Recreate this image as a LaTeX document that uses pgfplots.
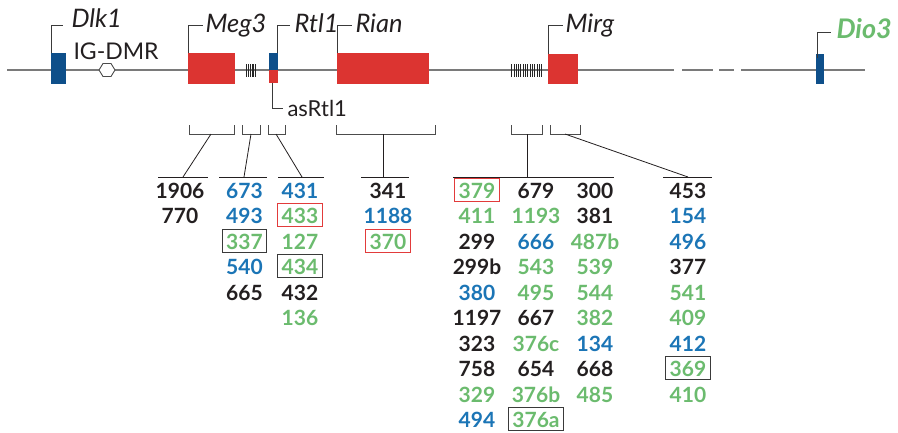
\documentclass[border=0pt]{standalone}
\usepackage{pgfplots}
\pgfplotsset{compat=1.18}
\usepackage{fontspec}
\setmainfont{Lato}
\definecolor{cK}{HTML}{231F20}
\definecolor{cB}{HTML}{1B75B6}
\definecolor{cG}{HTML}{6BBB6E}
\definecolor{gRed}{HTML}{DC3431}
\definecolor{gBlue}{HTML}{0E4F8A}
\definecolor{bxR}{HTML}{E23B3B}
\definecolor{bxK}{HTML}{3A3A3A}
\definecolor{lineG}{HTML}{7A7A7A}
\newcommand{\numfont}{\fontsize{21}{21}\selectfont\bfseries}
\newcommand{\genefont}{\fontsize{25.5}{25.5}\selectfont\itshape}
% number node: x, row, colour, text
\newcommand{\mi}[4]{\node[anchor=base,font=\numfont,text=#3,inner sep=0pt] at (axis cs:#1,{198+25.5*#2}) {#4};}
\newcommand{\mb}[5]{\node[anchor=base,font=\numfont,text=#3,draw=#5,line width=0.9pt,inner xsep=4pt,inner ysep=3pt,text height=17pt,text depth=0pt] at (axis cs:#1,{198+25.5*#2}) {#4};}
\begin{document}
\begin{tikzpicture}
\begin{axis}[width=898pt,height=432pt,scale only axis,
  xmin=0,xmax=898,ymin=0,ymax=432,y dir=reverse,hide axis,clip=false]
\path (axis cs:0,0) rectangle (axis cs:898,432);
% main line
\addplot[lineG,line width=1.3pt] coordinates {(7,70) (674,70)};
\addplot[lineG,line width=1.3pt] coordinates {(682,70) (713,70)};
\addplot[lineG,line width=1.3pt] coordinates {(719,70) (734,70)};
\addplot[lineG,line width=1.3pt] coordinates {(741,70) (865,70)};
% hatches
\addplot[black!85,line width=0.55pt,unbounded coords=jump] coordinates {
(246.5,64)(246.5,77)(247,nan)(248.3,64)(248.3,77)(249,nan)(250.1,64)(250.1,77)(251,nan)
(251.9,64)(251.9,77)(252,nan)(253.7,64)(253.7,77)(254,nan)(255.5,64)(255.5,77)};
\addplot[black!85,line width=0.55pt,unbounded coords=jump] coordinates {
(511.5,64)(511.5,77)(512,nan)(513.8,64)(513.8,77)(514,nan)(516.1,64)(516.1,77)(517,nan)
(518.4,64)(518.4,77)(519,nan)(520.7,64)(520.7,77)(521,nan)(523.0,64)(523.0,77)(524,nan)
(525.3,64)(525.3,77)(526,nan)(527.6,64)(527.6,77)(528,nan)(529.9,64)(529.9,77)(530,nan)
(532.2,64)(532.2,77)(533,nan)(534.5,64)(534.5,77)(535,nan)(536.8,64)(536.8,77)(537,nan)
(539.1,64)(539.1,77)(540,nan)(541.4,64)(541.4,77)};
% genes
\addplot[fill=gBlue,draw=none] coordinates {(51,53)(66,53)(66,84)(51,84)};
\addplot[fill=gRed,draw=none] coordinates {(188,53)(235,53)(235,84)(188,84)};
\addplot[fill=gBlue,draw=none] coordinates {(269,53)(278,53)(278,70)(269,70)};
\addplot[fill=gRed,draw=none] coordinates {(269,70)(278,70)(278,83)(269,83)};
\addplot[fill=gRed,draw=none] coordinates {(337,53)(429,53)(429,84)(337,84)};
\addplot[fill=gRed,draw=none] coordinates {(548,54)(578,54)(578,84)(548,84)};
\addplot[fill=gBlue,draw=none] coordinates {(816,54)(824,54)(824,84)(816,84)};
% IG-DMR hexagon
\addplot[draw=black!70,fill=white,line width=0.9pt] coordinates {(99,70)(103,63.5)(111,63.5)(115,70)(111,76.5)(103,76.5)(99,70)};
% gene label brackets
\addplot[bxK,line width=0.9pt] coordinates {(51,53)(51,25)(63,25)};
\addplot[bxK,line width=0.9pt] coordinates {(188.5,53)(188.5,25)(203,25)};
\addplot[bxK,line width=0.9pt] coordinates {(277.5,53)(277.5,25)(290,25)};
\addplot[bxK,line width=0.9pt] coordinates {(337.5,53)(337.5,25)(352,25)};
\addplot[bxK,line width=0.9pt] coordinates {(548.5,54)(548.5,25)(563,25)};
\addplot[bxK,line width=0.9pt] coordinates {(817,58)(817,32)(831,32)};
\addplot[bxK,line width=0.9pt] coordinates {(272,83)(272,108)(283,108)};
% labels
\node[anchor=base west,font=\genefont,text=cK] at (axis cs:68,27) {Dlk1};
\node[anchor=base west,font=\fontsize{23}{23}\selectfont,text=cK] at (axis cs:70,59) {IG-DMR};
\node[anchor=base west,font=\genefont,text=cK] at (axis cs:202,32) {Meg3};
\node[anchor=base west,font=\genefont,text=cK] at (axis cs:291,32) {Rtl1};
\node[anchor=base west,font=\genefont,text=cK] at (axis cs:352,32) {Rian};
\node[anchor=base west,font=\genefont,text=cK] at (axis cs:562,32) {Mirg};
\node[anchor=base west,font=\fontsize{27}{27}\selectfont\bfseries\itshape,text=cG] at (axis cs:833,38) {Dio3};
\node[anchor=base west,font=\fontsize{22}{22}\selectfont,text=cK] at (axis cs:284,116) {asRtl1};
% lower brackets
\addplot[black!70,line width=0.9pt] coordinates {(189,125)(189,134)(234,134)(234,125)};
\addplot[black!70,line width=0.9pt] coordinates {(242,125)(242,134)(260,134)(260,125)};
\addplot[black!70,line width=0.9pt] coordinates {(268,125)(268,134)(285,134)(285,125)};
\addplot[black!70,line width=0.9pt] coordinates {(336,125)(336,134)(435,134)(435,125)};
\addplot[black!70,line width=0.9pt] coordinates {(511,125)(511,134)(542,134)(542,125)};
\addplot[black!70,line width=0.9pt] coordinates {(550,125)(550,134)(580,134)(580,125)};
% connectors
\addplot[cK,line width=0.8pt] coordinates {(211,134)(183,177)};
\addplot[cK,line width=0.8pt] coordinates {(251,134)(244,177)};
\addplot[cK,line width=0.8pt] coordinates {(276,134)(302,177)};
\addplot[cK,line width=0.8pt] coordinates {(383,134)(383,177)};
\addplot[cK,line width=0.8pt] coordinates {(527,134)(527,177)};
\addplot[cK,line width=0.8pt] coordinates {(565,134)(688,177)};
% under bars
\addplot[cK,line width=0.9pt] coordinates {(158,177)(208,177)};
\addplot[cK,line width=0.9pt] coordinates {(219,177)(267,177)};
\addplot[cK,line width=0.9pt] coordinates {(278,177)(324,177)};
\addplot[cK,line width=0.9pt] coordinates {(361,177)(409,177)};
\addplot[cK,line width=0.9pt] coordinates {(453,177)(614,177)};
\addplot[cK,line width=0.9pt] coordinates {(663,177)(712,177)};
% column A
\mi{180}{0}{cK}{1906}
\mi{180}{1}{cK}{770}
% column B
\mi{244.5}{0}{cB}{673}
\mi{244.5}{1}{cB}{493}
\mb{244.5}{2}{cG}{337}{bxK}
\mi{244.5}{3}{cB}{540}
\mi{244.5}{4}{cK}{665}
% column C
\mi{300}{0}{cB}{431}
\mb{300}{1}{cG}{433}{bxR}
\mi{300}{2}{cG}{127}
\mb{300}{3}{cG}{434}{bxK}
\mi{300}{4}{cK}{432}
\mi{300}{5}{cG}{136}
% column D
\mi{388}{0}{cK}{341}
\mi{388}{1}{cB}{1188}
\mb{388}{2}{cG}{370}{bxR}
% column E
\mb{477}{0}{cG}{379}{bxR}
\mi{477}{1}{cG}{411}
\mi{477}{2}{cK}{299}
\mi{477}{3}{cK}{299b}
\mi{477}{4}{cB}{380}
\mi{477}{5}{cK}{1197}
\mi{477}{6}{cK}{323}
\mi{477}{7}{cK}{758}
\mi{477}{8}{cG}{329}
\mi{477}{9}{cB}{494}
% column F
\mi{536}{0}{cK}{679}
\mi{536}{1}{cG}{1193}
\mi{536}{2}{cB}{666}
\mi{536}{3}{cG}{543}
\mi{536}{4}{cG}{495}
\mi{536}{5}{cK}{667}
\mi{536}{6}{cG}{376c}
\mi{536}{7}{cK}{654}
\mi{536}{8}{cG}{376b}
\mb{536}{9}{cG}{376a}{bxK}
% column G
\mi{595}{0}{cK}{300}
\mi{595}{1}{cK}{381}
\mi{595}{2}{cG}{487b}
\mi{595}{3}{cG}{539}
\mi{595}{4}{cG}{544}
\mi{595}{5}{cG}{382}
\mi{595}{6}{cB}{134}
\mi{595}{7}{cK}{668}
\mi{595}{8}{cG}{485}
% column H
\mi{688}{0}{cK}{453}
\mi{688}{1}{cB}{154}
\mi{688}{2}{cB}{496}
\mi{688}{3}{cK}{377}
\mi{688}{4}{cG}{541}
\mi{688}{5}{cG}{409}
\mi{688}{6}{cB}{412}
\mb{688}{7}{cG}{369}{bxK}
\mi{688}{8}{cG}{410}
\end{axis}
\end{tikzpicture}
\end{document}
